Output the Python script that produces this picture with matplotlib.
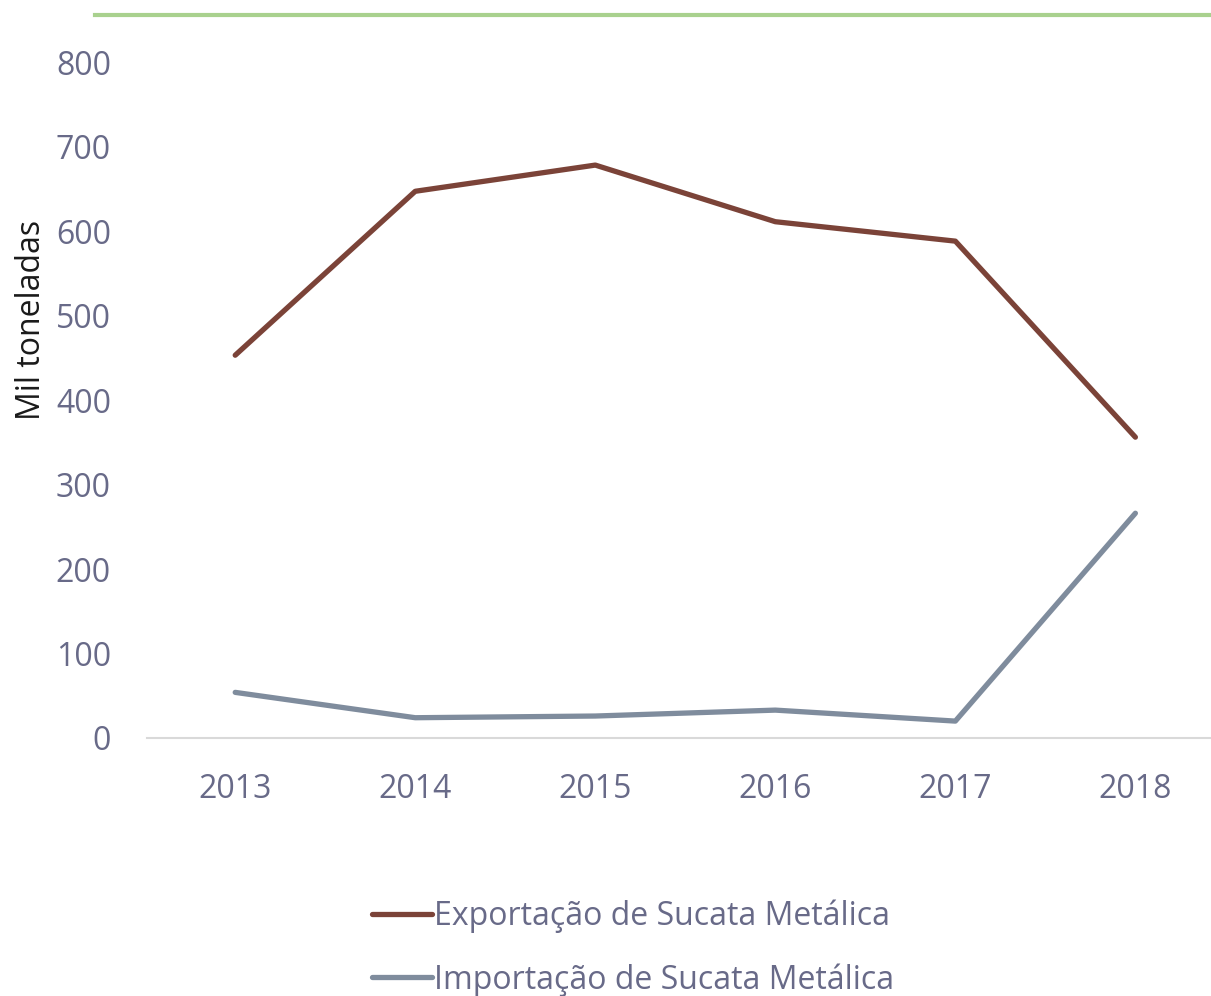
import matplotlib
matplotlib.use('Agg')
import matplotlib.pyplot as plt
from matplotlib.lines import Line2D

years = ['2013', '2014', '2015', '2016', '2017', '2018']
exportacao = [453, 647, 678, 611, 588, 356]
importacao = [54, 24, 26, 33, 20, 266]

EXP_COLOR = '#7B4338'
IMP_COLOR = '#7F8C9D'
TICK_COLOR = '#686A88'
GREEN = '#A9D18E'

plt.rcParams['font.family'] = ['Open Sans', 'DejaVu Sans']

fig = plt.figure(figsize=(12.11, 9.96), dpi=100)
ax = fig.add_axes([147 / 1211, 1 - 738 / 996, 1 - 147 / 1211, (738 - 62) / 996])

x = list(range(len(years)))
ax.plot(x, exportacao, color=EXP_COLOR, lw=3.8, solid_capstyle='round')
ax.plot(x, importacao, color=IMP_COLOR, lw=3.8, solid_capstyle='round')

ax.set_ylim(0, 800)
ax.set_xlim(-0.49, 5.42)
ax.set_yticks(range(0, 801, 100))
ax.set_xticks(x)
ax.set_xticklabels(years)
ax.tick_params(axis='both', length=0, labelsize=23, colors=TICK_COLOR)
ax.tick_params(axis='x', pad=25)
ax.tick_params(axis='y', pad=26)
for s in ['top', 'right', 'left']:
    ax.spines[s].set_visible(False)
ax.spines['bottom'].set_color('#D9D9D9')
ax.spines['bottom'].set_linewidth(1.5)

fig.text(32 / 1211, 1 - 320 / 996, 'Mil toneladas', rotation=90,
         ha='center', va='center', fontsize=23, color='#1A1A1A')

# green rule at the top
fig.add_artist(Line2D([95 / 1211, 1.0], [1 - 15 / 996, 1 - 15 / 996],
                      color=GREEN, lw=3))

handles = [Line2D([], [], color=EXP_COLOR, lw=3.8, solid_capstyle='round'),
           Line2D([], [], color=IMP_COLOR, lw=3.8, solid_capstyle='round')]
leg = fig.legend(handles, ['Exportação de Sucata Metálica', 'Importação de Sucata Metálica'],
                 loc='center', bbox_to_anchor=(633 / 1211, 1 - 948 / 996),
                 frameon=False, fontsize=23, handlelength=1.9, handletextpad=0.05,
                 labelspacing=0.95)
for t in leg.get_texts():
    t.set_color(TICK_COLOR)

fig.savefig('out.png', dpi=100, facecolor='white')
